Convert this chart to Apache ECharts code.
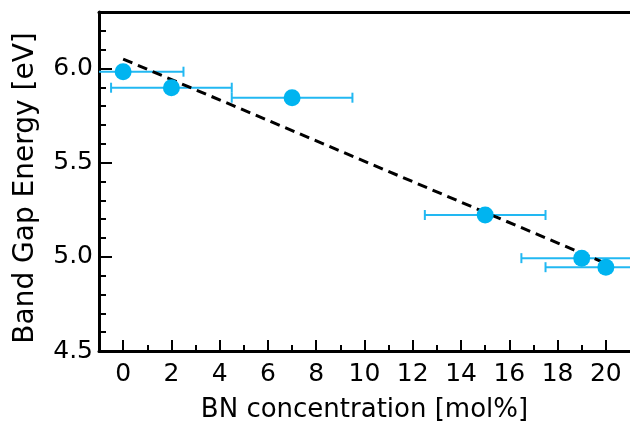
<!DOCTYPE html>
<html>
<head>
<meta charset="utf-8">
<script src="https://cdn.jsdelivr.net/npm/echarts@6/dist/echarts.min.js"></script>
<style>
html,body{margin:0;padding:0;background:#fff;}
#chart{width:630px;height:428px;}
</style>
</head>
<body>
<div id="chart"></div>
<script>
// Data
const bnConc = [0, 2, 7, 15, 19, 20];            // mol%
const bandGap = [5.983, 5.898, 5.845, 5.222, 4.993, 4.945]; // eV
const xErr = [2.5, 2.5, 2.5, 2.5, 2.5, 2.5];     // mol%
const fitX = [0, 20];
const fitY = [6.05, 4.965];
const xMajorTicks = [0, 2, 4, 6, 8, 10, 12, 14, 16, 18, 20];
const xMinorTicks = [1, 3, 5, 7, 9, 11, 13, 15, 17, 19];
const yMajorTicks = [4.5, 5.0, 5.5, 6.0];
const yMinorTicks = [4.6, 4.7, 4.8, 4.9, 5.1, 5.2, 5.3, 5.4, 5.6, 5.7, 5.8, 5.9, 6.1, 6.2];

const FONT = '"DejaVu Sans", "Liberation Sans", Arial, sans-serif';
const blue = '#00B4F0';
const barBlue = '#22B8F2';

const chart = echarts.init(document.getElementById('chart'), null, {renderer: 'canvas'});

const errData = bnConc.map((x, i) => [x, bandGap[i], x - xErr[i], x + xErr[i]]);
const ptData = bnConc.map((x, i) => [x, bandGap[i]]);
const fitData = fitX.map((x, i) => [x, fitY[i]]);

const baseX = {
  type: 'value', min: -1, max: 21, gridIndex: 0,
  splitLine: {show: false}
};
const baseY = {
  type: 'value', min: 4.5, max: 6.3, gridIndex: 0,
  splitLine: {show: false}
};

chart.setOption({
  animation: false,
  backgroundColor: '#fff',
  grid: {left: 99, top: 12, right: 0, bottom: 74, containLabel: false},
  xAxis: [
    Object.assign({}, baseX, {
      position: 'bottom',
      axisLine: {show: true, onZero: false, lineStyle: {color: '#000', width: 3}},
      axisTick: {show: true, inside: true, length: 11, lineStyle: {color: '#000', width: 2}, customValues: xMajorTicks},
      axisLabel: {show: true, customValues: xMajorTicks, color: '#000', fontFamily: FONT, fontSize: 25, margin: 11},
      name: 'BN concentration [mol%]', nameLocation: 'middle', nameGap: 46,
      nameTextStyle: {color: '#000', fontFamily: FONT, fontSize: 26}
    }),
    Object.assign({}, baseX, {
      position: 'bottom',
      axisLine: {show: false, onZero: false},
      axisTick: {show: true, inside: true, length: 6, lineStyle: {color: '#000', width: 2}, customValues: xMinorTicks},
      axisLabel: {show: false}
    }),
    Object.assign({}, baseX, {
      position: 'top',
      axisLine: {show: true, onZero: false, lineStyle: {color: '#000', width: 3}},
      axisTick: {show: false},
      axisLabel: {show: false}
    })
  ],
  yAxis: [
    Object.assign({}, baseY, {
      position: 'left',
      axisLine: {show: true, onZero: false, lineStyle: {color: '#000', width: 3}},
      axisTick: {show: true, inside: true, length: 13, lineStyle: {color: '#000', width: 2}, customValues: yMajorTicks},
      axisLabel: {show: true, customValues: yMajorTicks, color: '#000', fontFamily: FONT, fontSize: 25, margin: 6,
        formatter: v => Number(v).toFixed(1)}
    }),
    Object.assign({}, baseY, {
      position: 'left',
      axisLine: {show: false, onZero: false},
      axisTick: {show: true, inside: true, length: 7, lineStyle: {color: '#000', width: 2}, customValues: yMinorTicks},
      axisLabel: {show: false}
    })
  ],
  graphic: [{
    type: 'text',
    x: 26, y: 188,
    rotation: Math.PI / 2,
    style: {
      text: 'Band Gap Energy [eV]',
      font: '28px ' + FONT,
      fill: '#000',
      textAlign: 'center',
      textVerticalAlign: 'middle'
    }
  }],
  series: [
    {
      type: 'line', xAxisIndex: 0, yAxisIndex: 0,
      data: fitData, showSymbol: false, symbol: 'none',
      lineStyle: {color: '#000', width: 3, type: [10, 6]},
      z: 3
    },
    {
      type: 'custom', xAxisIndex: 0, yAxisIndex: 0,
      data: errData,
      renderItem: function (params, api) {
        const y = api.value(1);
        const lo = api.coord([api.value(2), y]);
        const hi = api.coord([api.value(3), y]);
        const cap = 5;
        const style = {stroke: barBlue, lineWidth: 2, fill: null};
        return {
          type: 'group',
          children: [
            {type: 'line', shape: {x1: lo[0], y1: lo[1], x2: hi[0], y2: hi[1]}, style: style},
            {type: 'line', shape: {x1: lo[0], y1: lo[1] - cap, x2: lo[0], y2: lo[1] + cap}, style: style},
            {type: 'line', shape: {x1: hi[0], y1: hi[1] - cap, x2: hi[0], y2: hi[1] + cap}, style: style}
          ]
        };
      },
      clip: true,
      z: 2
    },
    {
      type: 'scatter', xAxisIndex: 0, yAxisIndex: 0,
      data: ptData, symbol: 'circle', symbolSize: 17,
      itemStyle: {color: blue, opacity: 1},
      z: 4
    }
  ]
});
</script>
</body>
</html>
